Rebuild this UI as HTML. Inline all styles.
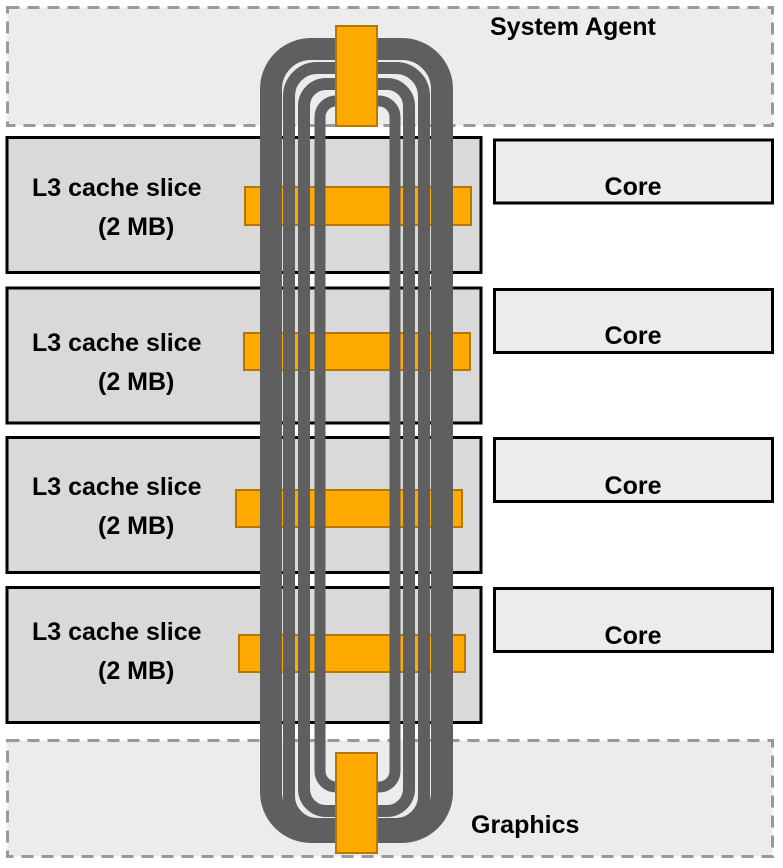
<!DOCTYPE html>
<html><head><meta charset="utf-8"><style>
html,body{margin:0;padding:0;background:#fff;}
svg{display:block;}
text{font-family:"Liberation Sans",Arial,sans-serif;font-weight:bold;fill:#000;}
</style></head><body>
<svg width="783" height="868" viewBox="0 0 783 868" xmlns="http://www.w3.org/2000/svg">
<rect x="7.5" y="7.5" width="765" height="118" fill="#ececec" stroke="#999" stroke-width="3" stroke-dasharray="12,8"/>
<rect x="7.5" y="740.5" width="765" height="116" fill="#ececec" stroke="#999" stroke-width="3" stroke-dasharray="12,8"/>
<g fill="#d9d9d9" stroke="#000" stroke-width="3">
<rect x="7" y="137.5" width="474" height="135"/>
<rect x="7" y="288" width="474" height="135"/>
<rect x="7" y="437.5" width="474" height="135"/>
<rect x="7" y="587.5" width="474" height="135"/>
</g>
<g fill="#ececec" stroke="#000" stroke-width="3">
<rect x="494.5" y="140" width="278" height="63"/>
<rect x="494.5" y="289.5" width="278" height="63"/>
<rect x="494.5" y="438.5" width="278" height="63"/>
<rect x="494.5" y="588.5" width="278" height="63"/>
</g>
<g font-size="25">
<text x="32" y="196">L3 cache slice</text><text x="98" y="235">(2 MB)</text>
<text x="32" y="351">L3 cache slice</text><text x="98" y="390">(2 MB)</text>
<text x="32" y="495">L3 cache slice</text><text x="98" y="534">(2 MB)</text>
<text x="32" y="640">L3 cache slice</text><text x="98" y="679">(2 MB)</text>
<text x="633" y="195" text-anchor="middle">Core</text>
<text x="633" y="344" text-anchor="middle">Core</text>
<text x="633" y="494" text-anchor="middle">Core</text>
<text x="633" y="644" text-anchor="middle">Core</text>
<text x="490" y="35">System Agent</text>
<text x="471" y="833">Graphics</text>
</g>
<g fill="#ffaa00" stroke="#b87500" stroke-width="2">
<rect x="245" y="187" width="226" height="38"/>
<rect x="244" y="333" width="226" height="37"/>
<rect x="236" y="490" width="226" height="37"/>
<rect x="239" y="635" width="226" height="37"/>
</g>
<g fill="none" stroke="#5f5f5f">
<rect x="271" y="49" width="171" height="783" rx="40" stroke-width="22"/>
<rect x="289" y="68" width="135" height="756" rx="28" stroke-width="12"/>
<rect x="304" y="84" width="105" height="727" rx="22" stroke-width="12"/>
<rect x="320" y="101" width="75" height="686" rx="16" stroke-width="11"/>
</g>
<g fill="#ffaa00" stroke="#b87500" stroke-width="2">
<rect x="336" y="26" width="41" height="100"/>
<rect x="336" y="753" width="41" height="100"/>
</g>
</svg>
</body></html>
